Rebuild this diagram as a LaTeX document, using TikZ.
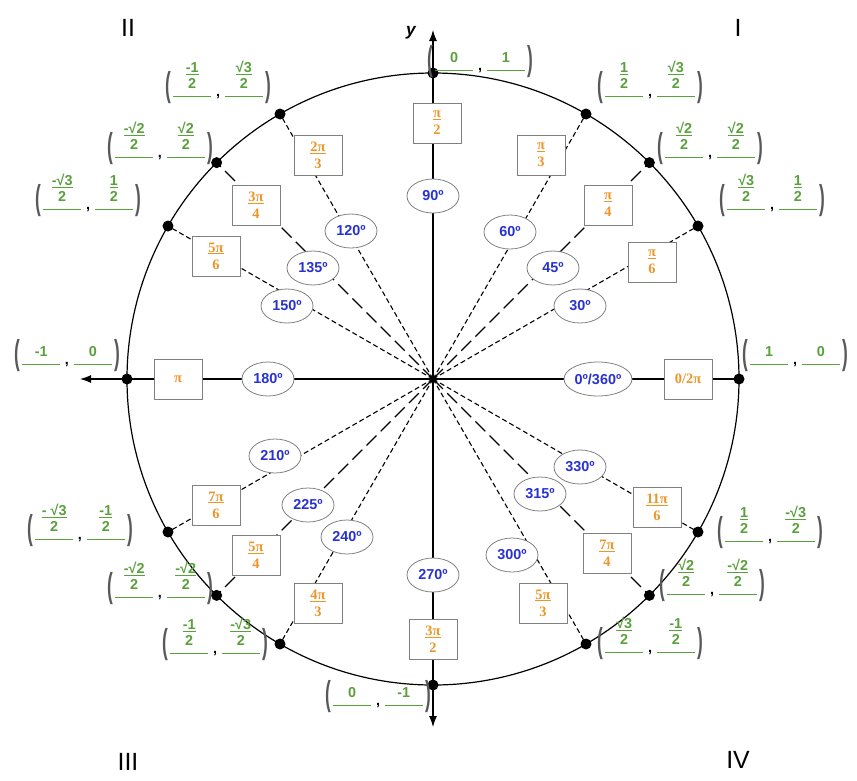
\documentclass[tikz,border=0pt]{standalone}
\usepackage{fontspec}
\setmainfont{Liberation Serif}
\setsansfont{Liberation Sans}
\usepackage{graphicx}
\usetikzlibrary{calc,shapes.geometric,arrows.meta}
\definecolor{dblue}{RGB}{40,50,210}
\definecolor{ora}{RGB}{235,150,40}
\definecolor{grn}{RGB}{90,160,60}
\newcommand\cfr[2]{\begin{tabular}[b]{@{}c@{}}\underline{#1}\\[-2pt]#2\\[-10pt]\rule{38pt}{0.9pt}\end{tabular}}
\newcommand\cint[1]{\begin{tabular}[b]{@{}c@{}}#1\\[-10pt]\rule{38pt}{0.9pt}\end{tabular}}
\newcommand\lp{{\color{gray!70!black}\scalebox{1}[2.0]{\LARGE(}}}
\newcommand\rp{{\color{gray!70!black}\scalebox{1}[2.0]{\LARGE)}}}
\newcommand\cpt[2]{\lp\,#1\,\,{\color{black},}\,\,#2\,\rp}
\newcommand\rf[2]{\underline{#1}\\[-1pt]#2}
\begin{document}
\begin{tikzpicture}[x=1pt,y=-1pt,
 deg/.style={ellipse,draw=gray,thick,fill=white,minimum width=52pt,minimum height=34pt,inner sep=0pt,font=\sffamily\bfseries\Large,text=dblue},
 rad/.style={rectangle,draw=gray,thick,fill=white,minimum width=48pt,minimum height=40pt,inner sep=1pt,font=\bfseries\Large,text=ora,align=center},
 crd/.style={font=\sffamily\bfseries\Large,text=grn,inner sep=0pt},
 dot/.style={circle,fill=black,minimum size=11pt,inner sep=0pt},
 quad/.style={font=\sffamily\Huge},
 ray/.style={dash pattern=on 5pt off 3pt,line width=1.1pt},
 lray/.style={dash pattern=on 14pt off 6pt,line width=1.1pt}]
\useasboundingbox (0,0) rectangle (857,780);
\coordinate (C) at (433,379);
\draw[line width=1.2pt] (C) circle (306pt);
\coordinate (ytop) at (433,30);
\coordinate (ybot) at (433,727);
\coordinate (xl) at (80,379);
\coordinate (xr) at (741,379);
\draw[line width=1.1pt,-{Latex[length=11pt,width=8pt]}] (C) -- (ytop);
\draw[line width=1.1pt,-{Latex[length=11pt,width=8pt]}] (C) -- (ybot);
\draw[line width=1.1pt,-{Latex[length=11pt,width=8pt]}] (C) -- (xl);
\draw[line width=1.1pt] (C) -- (xr);
\node[font=\sffamily\itshape\bfseries\LARGE] (ylab) at (411,33) {y};
\node[quad] (q1) at (738,28) {I};
\node[quad] (q2) at (128,28) {II};
\node[quad] (q3) at (128,762) {III};
\node[quad] (q4) at (738,760) {IV};
\foreach \a/\st in {30/ray,45/lray,60/ray,120/ray,135/lray,150/ray,210/ray,225/lray,240/ray,300/ray,315/lray,330/ray}{
  \coordinate (p\a) at ($(C)+(\a:306pt)$);
  \draw[\st] (C) -- (p\a);
}
\foreach \a in {0,90,180,270}{\coordinate (p\a) at ($(C)+(\a:306pt)$);}
\foreach \a in {0,30,45,60,90,120,135,150,180,210,225,240,270,300,315,330}{\node[dot] (d\a) at (p\a) {};}
\node[deg] (e90) at (433,196) {90º};
\node[deg] (e60) at (510,232) {60º};
\node[deg] (e45) at (553,268) {45º};
\node[deg] (e30) at (580,306) {30º};
\node[deg,minimum width=68pt] (e0) at (598,379) {0º/360º};
\node[deg] (e330) at (580,467) {330º};
\node[deg] (e315) at (540,494) {315º};
\node[deg] (e300) at (512,555) {300º};
\node[deg] (e270) at (433,575) {270º};
\node[deg] (e240) at (347,537) {240º};
\node[deg] (e225) at (308,505) {225º};
\node[deg] (e210) at (275,456) {210º};
\node[deg] (e180) at (268,379) {180º};
\node[deg] (e150) at (287,306) {150º};
\node[deg] (e135) at (313,268) {135º};
\node[deg] (e120) at (351,231) {120º};
\node[rad] (r90) at (437,123) {\rf{π}{2}};
\node[rad] (r60) at (541,155) {\rf{π}{3}};
\node[rad] (r45) at (608,205) {\rf{π}{4}};
\node[rad] (r30) at (652,262) {\rf{π}{6}};
\node[rad] (r0) at (688,379) {0/2π};
\node[rad] (r330) at (657,507) {\rf{11π}{6}};
\node[rad] (r315) at (607,553) {\rf{7π}{4}};
\node[rad] (r300) at (543,603) {\rf{5π}{3}};
\node[rad] (r270) at (433,639) {\rf{3π}{2}};
\node[rad] (r240) at (318,603) {\rf{4π}{3}};
\node[rad] (r225) at (256,555) {\rf{5π}{4}};
\node[rad] (r210) at (216,505) {\rf{7π}{6}};
\node[rad] (r180) at (178,379) {π};
\node[rad] (r150) at (216,256) {\rf{5π}{6}};
\node[rad] (r135) at (256,205) {\rf{3π}{4}};
\node[rad] (r120) at (318,155) {\rf{2π}{3}};
\node[crd] (c90) at (480,62) {\cpt{\cint{0}}{\cint{1}}};
\node[crd] (c60) at (650,82) {\cpt{\cfr{1}{2}}{\cfr{√3}{2}}};
\node[crd] (c45) at (710,143) {\cpt{\cfr{√2}{2}}{\cfr{√2}{2}}};
\node[crd] (c30) at (772,195) {\cpt{\cfr{√3}{2}}{\cfr{1}{2}}};
\node[crd] (c0) at (795,356) {\cpt{\cint{1}}{\cint{0}}};
\node[crd] (c330) at (770,527) {\cpt{\cfr{1}{2}}{\cfr{-√3}{2}}};
\node[crd] (c315) at (712,580) {\cpt{\cfr{√2}{2}}{\cfr{-√2}{2}}};
\node[crd] (c300) at (650,638) {\cpt{\cfr{√3}{2}}{\cfr{-1}{2}}};
\node[crd] (c270) at (378,697) {\cpt{\cint{0}}{\cint{-1}}};
\node[crd] (c240) at (215,639) {\cpt{\cfr{-1}{2}}{\cfr{-√3}{2}}};
\node[crd] (c225) at (160,583) {\cpt{\cfr{-√2}{2}}{\cfr{-√2}{2}}};
\node[crd] (c210) at (80,525) {\cpt{\cfr{- √3}{2}}{\cfr{-1}{2}}};
\node[crd] (c180) at (67,356) {\cpt{\cint{-1}}{\cint{0}}};
\node[crd] (c150) at (88,195) {\cpt{\cfr{-√3}{2}}{\cfr{1}{2}}};
\node[crd] (c135) at (160,143) {\cpt{\cfr{-√2}{2}}{\cfr{√2}{2}}};
\node[crd] (c120) at (218,82) {\cpt{\cfr{-1}{2}}{\cfr{√3}{2}}};
\end{tikzpicture}
\end{document}
